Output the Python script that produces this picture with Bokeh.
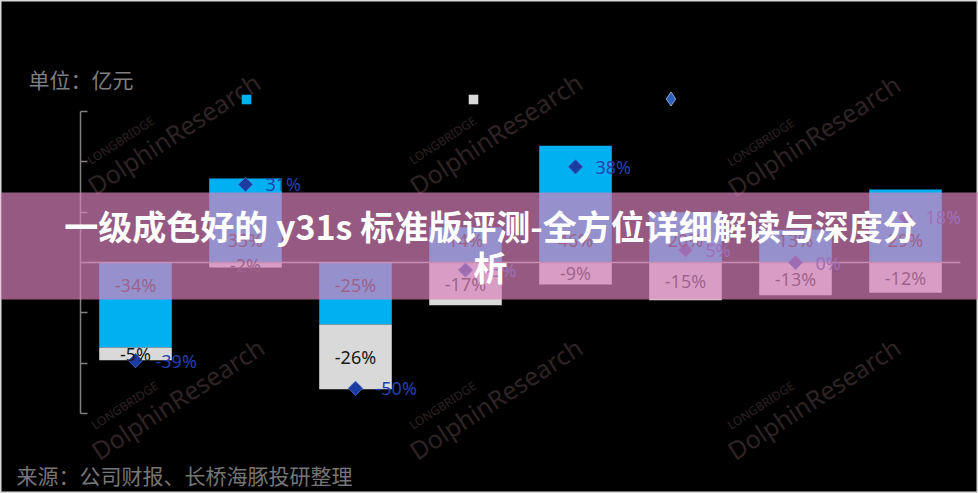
import numpy as np
from bokeh.plotting import figure
from bokeh.models import (Range1d, ColumnDataSource, FixedTicker, PrintfTickFormatter,
                          BoxAnnotation, Label, Legend, LegendItem, CDSView, IndexFilter)
from bokeh.core.properties import value
from bokeh.embed import file_html
from bokeh.resources import INLINE

# ---- data ----
slots = [1, 2, 3, 4, 5, 6, 7, 8]
blue_vals = [-33.8, 33.4, -24.6, 14.0, 46.4, 20.0, 13.0, 29.0]
grey_vals = [-5.0, -2.0, -25.8, -17.0, -8.7, -15.0, -13.0, -12.0]
total_vals = [-39, 31, -50, -3, 38, 5, 0, 18]
y_ticks = [-60, -40, -20, 0, 20, 40, 60]

unit_text = "单位：亿元"
source_text = "来源：公司财报、长桥海豚投研整理"
banner_title = "一级成色好的 y31s 标准版评测-全方位详细解读与深度分析"
wm_main = "DolphinResearch"
wm_small = "LONGBRIDGE"

BLUE = "#00B0F0"
GREY = "#D9D9D9"
DIAMOND = "#1C3B9E"
DIAMOND_TXT = "#2141B0"
LABEL_TXT = "#1A1A1A"
WM = "#2E2325"

# ---- layout (pixels) ----
W, H = 978, 493
AX_X = 80                   # pixel column of the value axis
SLOT_PX = 110               # pixels per category slot
ZERO_Y = 262                # pixel row of value 0
PPU = 302 / 120             # pixels per percentage point


def fy(py):                 # page y -> screen y measured from bottom
    return H - py


x = np.array(slots, dtype=float) - 0.5
blue = np.array(blue_vals)
grey = np.array(grey_vals)
grey_top = np.minimum(blue, 0)
grey_bot = grey_top + grey

src = ColumnDataSource(dict(
    x=x, blue=blue, zero=np.zeros_like(blue), grey_top=grey_top, grey_bot=grey_bot,
    blue_lab=["%d%%" % round(v) for v in blue],
    blue_lab_y=np.sign(blue) * 9.0,
    grey_lab=["%d%%" % round(v) for v in grey],
    grey_lab_y=(grey_top + grey_bot) / 2,
    total=total_vals,
    total_lab=["%d%%" % v for v in total_vals],
))

p = figure(width=W, height=H, output_backend="svg", toolbar_location=None, title=None,
           x_axis_location=None,
           x_range=Range1d(-AX_X / SLOT_PX, (W - AX_X) / SLOT_PX),
           y_range=Range1d(-(H - ZERO_Y) / PPU, ZERO_Y / PPU),
           min_border_left=0, min_border_right=0, min_border_top=0, min_border_bottom=0)
p.background_fill_color = "#000000"
p.border_fill_color = "#000000"
p.outline_line_color = "#D9D9D9"
p.outline_line_width = 2
p.grid.visible = False

ya = p.yaxis[0]
ya.fixed_location = 0
ya.bounds = (y_ticks[0], y_ticks[-1])
ya.ticker = FixedTicker(ticks=y_ticks)
ya.formatter = PrintfTickFormatter(format="%d%%")
ya.axis_line_color = "#808080"
ya.axis_line_width = 1.5
ya.major_tick_line_color = "#808080"
ya.major_tick_line_width = 1.5
ya.major_tick_in = 7
ya.major_tick_out = 0
ya.minor_tick_line_color = None
ya.major_label_text_color = "#000000"

# watermarks
ang = np.deg2rad(33)
d = np.array([np.cos(ang), -np.sin(ang)])
nrm = np.array([-np.sin(ang), -np.cos(ang)])
for cx, cy in [(173, 133), (495, 133), (813, 135), (177, 398), (495, 398), (813, 398)]:
    p.add_layout(Label(x=cx, y=fy(cy), x_units="screen", y_units="screen", text=wm_main,
                       angle=ang, text_align="center", text_baseline="middle",
                       text_font="Noto Sans", text_font_size="25px", text_color=WM))
    sc = np.array([cx, cy]) - 48 * d + 23 * nrm
    p.add_layout(Label(x=sc[0], y=fy(sc[1]), x_units="screen", y_units="screen",
                       text=wm_small, angle=ang, text_align="center", text_baseline="middle",
                       text_font="Noto Sans", text_font_size="12px", text_color=WM))

rb = p.vbar(x="x", width=0.66, bottom="zero", top="blue", source=src,
            fill_color=BLUE, line_color=None)
rg = p.vbar(x="x", width=0.66, bottom="grey_bot", top="grey_top", source=src,
            fill_color=GREY, line_color=None)

# zero line across the category area
p.segment(x0=0, x1=len(slots), y0=0, y1=0, line_color="#A6A6A6", line_width=1.5)

# legend-only diamond glyph: one point, fully hidden underneath the real marker drawn next
rd_leg = p.scatter(x="x", y="total", source=src, view=CDSView(filter=IndexFilter(indices=[0])),
                   marker="diamond", size=13, fill_color="#2F5FB8", line_color="#8FA8DC",
                   line_width=1)

rd = p.scatter(x="x", y="total", source=src, marker="square", angle=np.pi / 4, size=10,
               fill_color=DIAMOND, line_color="#3A62C8", line_width=1)

common = dict(text_align="center", text_baseline="middle", text_font=value("Noto Sans"),
              text_font_size="18px", text_color=LABEL_TXT)
p.text(x="x", y="blue_lab_y", text="blue_lab", source=src, **common)
p.text(x="x", y="grey_lab_y", text="grey_lab", source=src, **common)
p.text(x="x", y="total", text="total_lab", source=src, x_offset=20, text_align="left",
       text_baseline="middle", text_font=value("Noto Sans"), text_font_size="18px",
       text_color=DIAMOND_TXT)

# legend markers (their labels are not legible in the reference)
for r, cx, cy, g in [(rb, 245.5, 98.5, 12), (rg, 472.5, 98.5, 12), (rd_leg, 670, 98.5, 35)]:
    leg = Legend(items=[LegendItem(label=value(" "), renderers=[r])],
                 location=(cx - g / 2, fy(cy) - g / 2),
                 padding=0, margin=0, spacing=0, glyph_width=g, glyph_height=g,
                 label_standoff=0, label_width=0, label_height=g,
                 label_text_font_size="8px", label_text_color="#000000",
                 background_fill_alpha=0, border_line_color=None)
    p.add_layout(leg)

p.add_layout(Label(x=28, y=fy(78), x_units="screen", y_units="screen", text=unit_text,
                   text_align="left", text_baseline="middle", text_font="Noto Sans CJK SC",
                   text_font_size="21px", text_color="#7F7F7F"))
p.add_layout(Label(x=16, y=fy(474), x_units="screen", y_units="screen", text=source_text,
                   text_align="left", text_baseline="middle", text_font="Noto Sans CJK SC",
                   text_font_size="21px", text_color="#767676"))

# translucent banner with title
p.add_layout(BoxAnnotation(left=0, right=W, bottom=fy(299), top=fy(192),
                           left_units="screen", right_units="screen",
                           top_units="screen", bottom_units="screen",
                           fill_color="#D982BC", fill_alpha=0.69, line_alpha=0))
line1, line2 = banner_title[:-1], banner_title[-1:]
for t, yy in [(line1, 225), (line2, 266)]:
    p.add_layout(Label(x=490, y=fy(yy), x_units="screen", y_units="screen", text=t,
                       text_align="center", text_baseline="middle",
                       text_font="Noto Sans CJK SC", text_font_style="bold",
                       text_font_size="34px", text_color="#FFFFFF"))

open("out.html", "w").write(file_html(p, INLINE))
